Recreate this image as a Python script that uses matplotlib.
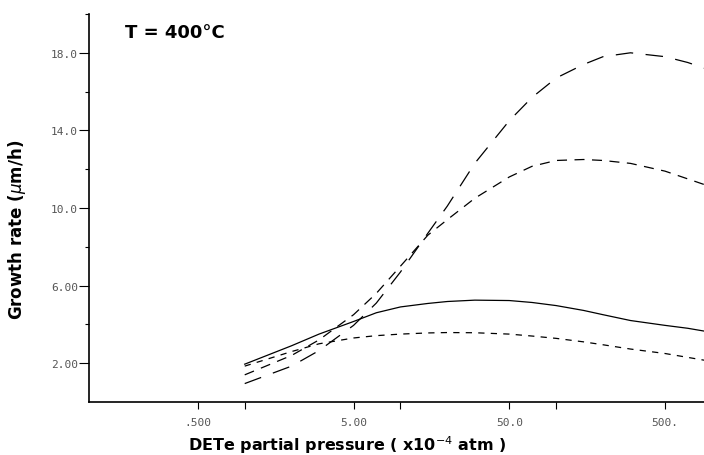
import matplotlib
matplotlib.use("Agg")
import matplotlib.pyplot as plt
from matplotlib.ticker import FixedLocator, NullFormatter

# DETe partial pressure (x10^-4 atm), shared grid for all four curves
pressure = [1, 2, 3, 5, 7, 10, 15, 20, 30, 50, 70, 100, 150, 200, 300, 500, 700, 900]

# growth rate (um/h)
rate_solid = [1.95, 2.9, 3.5, 4.15, 4.6, 4.9, 5.08, 5.18, 5.25, 5.23, 5.13, 4.97, 4.72, 4.5, 4.2, 3.95, 3.8, 3.65]
rate_short = [1.85, 2.6, 3.0, 3.3, 3.42, 3.5, 3.56, 3.58, 3.57, 3.5, 3.4, 3.28, 3.1, 2.95, 2.73, 2.5, 2.3, 2.15]
rate_medium = [1.4, 2.4, 3.2, 4.5, 5.6, 7.0, 8.6, 9.4, 10.5, 11.6, 12.15, 12.45, 12.5, 12.45, 12.3, 11.9, 11.5, 11.2]
rate_long = [0.95, 1.85, 2.65, 3.95, 5.1, 6.7, 8.7, 10.1, 12.3, 14.5, 15.7, 16.7, 17.4, 17.8, 18.0, 17.8, 17.5, 17.2]

x_major = [0.5, 5, 50, 500]
x_major_labels = [".500", "5.00", "50.0", "500."]
x_minor = [1, 10, 100]
y_major = [2, 6, 10, 14, 18]
y_major_labels = ["2.00", "6.00", "10.0", "14.0", "18.0"]
y_minor = [4, 8, 12, 16, 20]

fig = plt.figure(figsize=(7.04, 4.56), dpi=100)
ax = fig.add_axes([89 / 704, 53 / 456, 615 / 704, 388 / 456])

lw = 0.9
ax.plot(pressure, rate_solid, color="black", lw=lw)
ax.plot(pressure, rate_short, color="black", lw=lw, dashes=(5, 5))
ax.plot(pressure, rate_medium, color="black", lw=lw, dashes=(8, 6))
ax.plot(pressure, rate_long, color="black", lw=lw, dashes=(14, 10))

ax.set_xscale("log")
ax.set_xlim(0.1, 890)
ax.set_ylim(0, 20)

for s in ["top", "right"]:
    ax.spines[s].set_visible(False)
for s in ["left", "bottom"]:
    ax.spines[s].set_linewidth(1.2)

ax.xaxis.set_major_locator(FixedLocator(x_major))
ax.xaxis.set_minor_locator(FixedLocator(x_minor))
ax.set_xticklabels(x_major_labels)
ax.xaxis.set_minor_formatter(NullFormatter())
ax.yaxis.set_major_locator(FixedLocator(y_major))
ax.yaxis.set_minor_locator(FixedLocator(y_minor))
ax.set_yticklabels(y_major_labels)

ax.tick_params(axis="x", which="both", length=5, width=0.8, direction="out", pad=6)
ax.tick_params(axis="y", which="major", length=7, width=0.8, direction="out", pad=1)
ax.tick_params(axis="y", which="minor", length=3, width=0.8, direction="out")
for lab in ax.get_xticklabels() + ax.get_yticklabels():
    lab.set_family("DejaVu Sans Mono")
    lab.set_fontsize(8)
    lab.set_color("#555555")

ax.set_ylabel(r"Growth rate ($\mu$m/h)", fontsize=12, fontweight="bold")
ax.yaxis.set_label_coords(-0.1, 0.446)
ax.set_xlabel(r"DETe partial pressure ( x10$^{-4}$ atm )", fontsize=11.5, fontweight="bold")
ax.xaxis.set_label_coords(0.42, -0.08)

fig.text(125 / 704, 1 - 33 / 456, "T = 400°C", fontsize=13, fontweight="bold",
         ha="left", va="center")

fig.savefig("out.png", dpi=100)
